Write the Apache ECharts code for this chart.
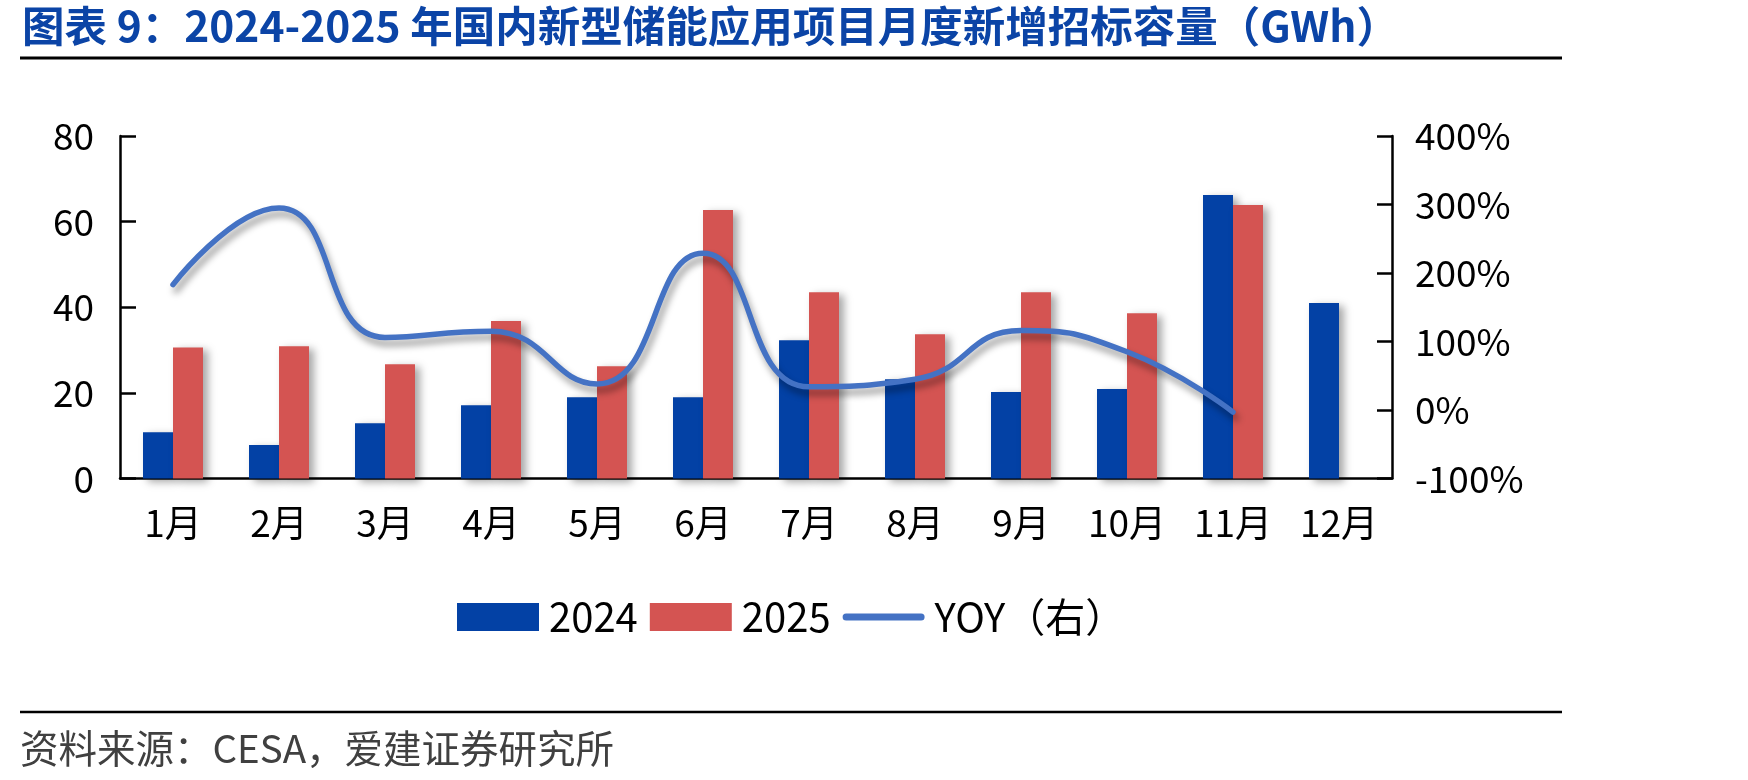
<!DOCTYPE html>
<html>
<head>
<meta charset="utf-8">
<title>新型储能月度新增招标容量</title>
<script src="https://cdn.jsdelivr.net/npm/echarts@6/dist/echarts.min.js"></script>
<style>
    html, body { margin: 0; padding: 0; background: #fff; }
    #chart { width: 1748px; height: 780px; }
</style>
</head>
<body>
<div id="chart"></div>
<script>
    //横轴月份
    let months = ['1月', '2月', '3月', '4月', '5月', '6月', '7月', '8月', '9月', '10月', '11月', '12月'];
    //2024年新增招标容量(GWh)
    let data2024 = [10.8, 7.8, 12.9, 17.1, 19.0, 19.0, 32.3, 23.2, 20.2, 20.9, 66.2, 41.0];
    //2025年新增招标容量(GWh)，12月暂无
    let data2025 = [30.6, 30.9, 26.7, 36.8, 26.2, 62.7, 43.5, 33.7, 43.5, 38.6, 63.9];
    //同比(%)
    let yoy = [183, 295, 106, 115, 38, 229, 34, 45, 116, 85, -3];
    //左右轴刻度
    let leftTicks = [0, 20, 40, 60, 80];
    let rightTicks = [-100, 0, 100, 200, 300, 400];

    let fontName = '"Noto Sans CJK SC", "Noto Sans", sans-serif';
    let shadow = {
        shadowColor: 'rgba(0,0,0,0.35)',
        shadowBlur: 8,
        shadowOffsetX: 5,
        shadowOffsetY: 3
    };

    let myChart = echarts.init(document.getElementById('chart'));

    //轴线公共样式
    let axisLineStyle = { color: '#000', width: 2.5 };

    let option = {
        animation: false,
        textStyle: { fontFamily: fontName },
        //标题、分割线、资料来源
        graphic: [
            {
                type: 'text', x: 22, y: 26,
                style: {
                    text: '图表 9：2024-2025 年国内新型储能应用项目月度新增招标容量（GWh）',
                    font: 'bold 42.5px ' + fontName,
                    fill: '#0B44A6',
                    verticalAlign: 'middle'
                }
            },
            {
                type: 'line',
                shape: { x1: 20, y1: 58, x2: 1562, y2: 58 },
                style: { stroke: '#000', lineWidth: 3 }
            },
            {
                type: 'line',
                shape: { x1: 20, y1: 712, x2: 1562, y2: 712 },
                style: { stroke: '#000', lineWidth: 2.5 }
            },
            {
                type: 'text', x: 20, y: 748,
                style: {
                    text: '资料来源：CESA，爱建证券研究所',
                    font: '38.5px ' + fontName,
                    fill: '#404040',
                    verticalAlign: 'middle'
                }
            }
        ],
        legend: {
            left: 452,
            top: 592,
            itemWidth: 82,
            itemHeight: 28,
            itemGap: 12,
            textStyle: { fontSize: 40, color: '#000', fontFamily: fontName, padding: [0, 0, 0, 5] },
            data: [
                { name: '2024', icon: 'rect' },
                { name: '2025', icon: 'rect' },
                { name: 'YOY（右）', icon: 'path://M3.5,0 L78.5,0 A3.5,3.5 0 0 1 78.5,7 L3.5,7 A3.5,3.5 0 0 1 3.5,0 Z' }
            ]
        },
        grid: {
            left: 120,
            top: 136,
            width: 1272,
            height: 342.5,
            containLabel: false
        },
        xAxis: {
            type: 'category',
            data: months,
            axisLine: { lineStyle: axisLineStyle },
            axisTick: { inside: true, length: 13, lineStyle: axisLineStyle },
            axisLabel: { fontSize: 37, color: '#000', margin: 26, interval: 0 }
        },
        yAxis: [
            {
                type: 'value',
                min: leftTicks[0],
                max: leftTicks[leftTicks.length - 1],
                interval: leftTicks[1] - leftTicks[0],
                splitLine: { show: false },
                axisLine: { show: true, lineStyle: axisLineStyle },
                axisTick: { show: true, inside: true, length: 16, lineStyle: axisLineStyle },
                axisLabel: { fontSize: 37, color: '#000', margin: 26 }
            },
            {
                type: 'value',
                position: 'right',
                min: rightTicks[0],
                max: rightTicks[rightTicks.length - 1],
                interval: rightTicks[1] - rightTicks[0],
                splitLine: { show: false },
                axisLine: { show: true, lineStyle: axisLineStyle },
                axisTick: { show: true, inside: true, length: 15, lineStyle: axisLineStyle },
                axisLabel: { fontSize: 37, color: '#000', margin: 23, formatter: '{value}%' }
            }
        ],
        series: [
            {
                name: '2024',
                type: 'bar',
                data: data2024,
                barWidth: 30,
                barGap: '0%',
                itemStyle: Object.assign({ color: '#0341A5' }, shadow)
            },
            {
                name: '2025',
                type: 'bar',
                data: data2025,
                barWidth: 30,
                barGap: '0%',
                itemStyle: Object.assign({ color: '#D45452' }, shadow)
            },
            {
                name: 'YOY（右）',
                type: 'line',
                yAxisIndex: 1,
                data: yoy,
                smooth: 0.5,
                symbol: 'none',
                z: 5,
                itemStyle: { color: '#4472C4' },
                lineStyle: {
                    color: '#4472C4',
                    width: 5.5,
                    cap: 'round',
                    shadowColor: 'rgba(0,0,0,0.4)',
                    shadowBlur: 7,
                    shadowOffsetX: 3,
                    shadowOffsetY: 6
                }
            }
        ]
    };

    myChart.setOption(option);
</script>
</body>
</html>
